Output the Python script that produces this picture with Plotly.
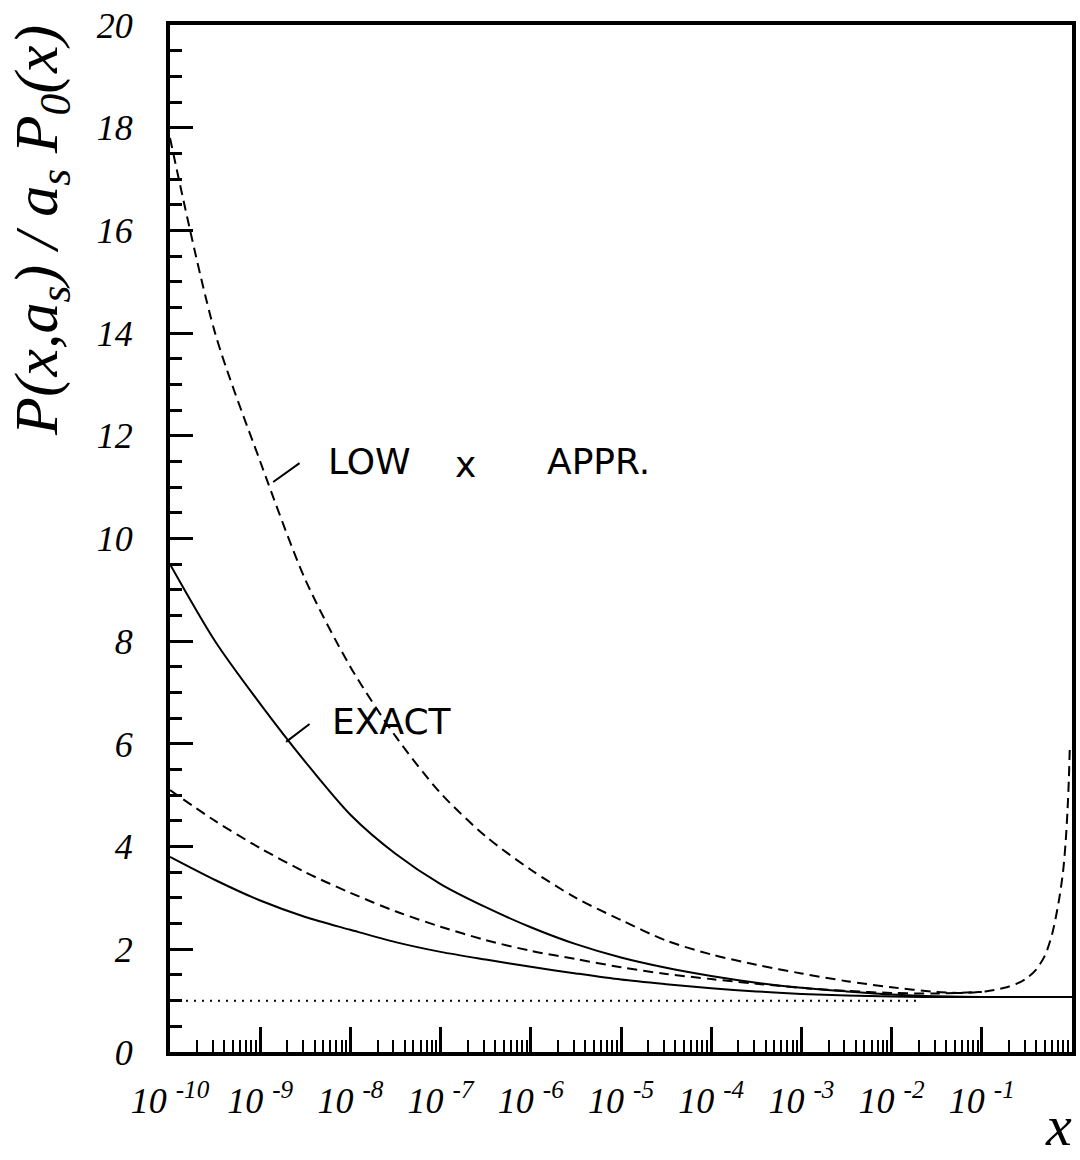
import plotly.graph_objects as go

# ---- data (log10 x, ratio) ----
appr_hi_logx = [-10, -9.5, -9, -8.5, -8, -7.5, -7, -6.5, -6, -5.5, -5, -4.5, -4, -3.5, -3, -2.5,
                -2, -1.5, -1.2, -0.96, -0.75, -0.6, -0.5, -0.4, -0.3, -0.22, -0.15, -0.1, -0.07,
                -0.05, -0.035, -0.025]
appr_hi_y = [17.8, 14.0, 11.5, 9.2, 7.5, 6.15, 5.04, 4.2, 3.55, 3.0, 2.57, 2.17, 1.90, 1.70, 1.53, 1.38,
             1.26, 1.17, 1.15, 1.18, 1.25, 1.34, 1.44, 1.6, 1.88, 2.3, 2.9, 3.5, 4.1,
             4.7, 5.3, 5.9]

exact_hi_logx = [-10, -9.5, -9, -8.5, -8, -7.5, -7, -6.5, -6, -5.5, -5, -4.5, -4, -3.5, -3, -2.5,
                 -2, -1.5, -1, 0]
exact_hi_y = [9.5, 8.0, 6.78, 5.65, 4.62, 3.86, 3.27, 2.82, 2.43, 2.10, 1.84, 1.64, 1.48, 1.35, 1.25, 1.18,
              1.12, 1.085, 1.07, 1.07]

appr_lo_logx = [-10, -9.5, -9, -8.5, -8, -7.5, -7, -6.5, -6, -5.5, -5, -4.5, -4, -3.5, -3, -2.5,
                -2, -1.5, -1.0]
appr_lo_y = [5.1, 4.5, 3.97, 3.5, 3.1, 2.74, 2.44, 2.18, 1.97, 1.81, 1.65, 1.52, 1.42, 1.33, 1.25, 1.19,
             1.15, 1.14, 1.17]

exact_lo_logx = [-10, -9.5, -9, -8.5, -8, -7.5, -7, -6.5, -6, -5.5, -5, -4.5, -4, -3.5, -3, -2.5,
                 -2, -1.5, 0]
exact_lo_y = [3.8, 3.35, 2.95, 2.63, 2.38, 2.14, 1.95, 1.80, 1.66, 1.53, 1.41, 1.32, 1.24, 1.18, 1.13, 1.10,
              1.08, 1.07, 1.07]

born_logx = [-10, -1.7]
born_y = [1.0, 1.0]

x_tick_exp = [-10, -9, -8, -7, -6, -5, -4, -3, -2, -1, 0]
x_tick_text = ["10 <sup>-%d</sup>" % (-e) for e in x_tick_exp[:-1]] + [""]
y_tick_vals = [0, 2, 4, 6, 8, 10, 12, 14, 16, 18, 20]

SERIF = "Liberation Serif"
HAND = "DejaVu Sans"


def tx(v):
    return [10 ** a for a in v]


fig = go.Figure()
line_solid = dict(color="black", width=2, shape="spline", smoothing=0.8)
line_dash = dict(color="black", width=2, dash="10px,6px", shape="spline", smoothing=0.8)

fig.add_trace(go.Scatter(x=tx(appr_hi_logx), y=appr_hi_y, mode="lines", line=line_dash))
fig.add_trace(go.Scatter(x=tx(exact_hi_logx), y=exact_hi_y, mode="lines", line=line_solid))
fig.add_trace(go.Scatter(x=tx(appr_lo_logx), y=appr_lo_y, mode="lines", line=line_dash))
fig.add_trace(go.Scatter(x=tx(exact_lo_logx), y=exact_lo_y, mode="lines", line=line_solid))
fig.add_trace(go.Scatter(x=tx(born_logx), y=born_y, mode="lines",
                         line=dict(color="black", width=2, dash="2px,6px")))

fig.update_layout(
    width=1080, height=1160,
    margin=dict(l=170, r=4, t=25, b=108),
    paper_bgcolor="white", plot_bgcolor="white",
    showlegend=False,
)

fig.update_xaxes(
    type="log", range=[-10, 0],
    tickmode="array", tickvals=tx(x_tick_exp), ticktext=x_tick_text,
    ticks="inside", ticklen=25, tickwidth=3, tickcolor="black",
    minor=dict(ticks="inside", ticklen=12, tickwidth=2, tickcolor="black", dtick="D1", showgrid=False),
    showline=True, linewidth=4, linecolor="black", mirror=True,
    showgrid=False, zeroline=False,
    tickfont=dict(family=SERIF, size=36, color="black", style="italic"),
    ticklabelstandoff=14,
)
fig.update_yaxes(
    range=[0, 20],
    tickmode="array", tickvals=y_tick_vals,
    ticks="inside", ticklen=23, tickwidth=3, tickcolor="black",
    minor=dict(ticks="inside", ticklen=12, tickwidth=3, tickcolor="black", dtick=0.5, showgrid=False),
    showline=True, linewidth=4, linecolor="black", mirror=True,
    showgrid=False, zeroline=False,
    tickfont=dict(family=SERIF, size=36, color="black", style="italic"),
    ticklabelstandoff=26,
)

ann = []
# axis titles
ann.append(dict(xref="paper", yref="paper", x=-0.1435, y=0.80, xanchor="center", yanchor="middle",
                text="P(x,a<sub>s</sub>) / a<sub>s</sub> P<sub>0</sub>(x)", textangle=-90, showarrow=False,
                font=dict(family=SERIF, size=62, color="black", style="italic")))
ann.append(dict(xref="paper", yref="paper", x=0.985, y=-0.072, xanchor="center", yanchor="middle",
                text="x", showarrow=False,
                font=dict(family=SERIF, size=58, color="black", style="italic")))
# handwritten labels
hand = dict(family=HAND, size=36, color="black")
ann.append(dict(x=-8.271, y=11.49, xanchor="left", yanchor="middle", text="LOW", showarrow=False, font=hand))
ann.append(dict(x=-6.867, y=11.45, xanchor="left", yanchor="middle", text="x", showarrow=False, font=hand))
ann.append(dict(x=-5.84, y=11.49, xanchor="left", yanchor="middle", text="APPR.", showarrow=False, font=hand))
ann.append(dict(x=-8.227, y=6.43, xanchor="left", yanchor="middle", text="EXACT", showarrow=False, font=hand))
# pointer strokes
ann.append(dict(x=-8.856, y=11.10, ax=-8.547, ay=11.49, axref="x", ayref="y", text="", showarrow=True,
                arrowhead=0, arrowwidth=2, arrowcolor="black", standoff=0, startstandoff=0))
ann.append(dict(x=-8.713, y=6.04, ax=-8.436, ay=6.41, axref="x", ayref="y", text="", showarrow=True,
                arrowhead=0, arrowwidth=2, arrowcolor="black", standoff=0, startstandoff=0))
fig.update_layout(annotations=ann)

fig.write_html("out.html")
